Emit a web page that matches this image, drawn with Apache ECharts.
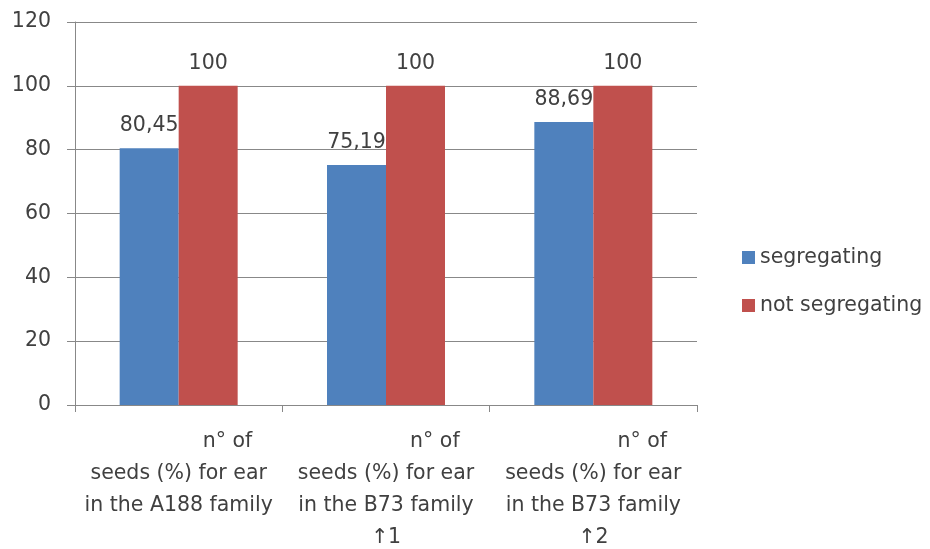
<!DOCTYPE html>
<html>
<head>
<meta charset="utf-8">
<script src="https://cdn.jsdelivr.net/npm/echarts@6/dist/echarts.min.js"></script>
<style>html,body{margin:0;padding:0;background:#fff}#c{width:930px;height:549px}</style>
</head>
<body>
<div id="c"></div>
<script>
const categories = [
  "               n° of\nseeds (%) for ear\nin the A188 family",
  "               n° of\nseeds (%) for ear\nin the B73 family\n↑1",
  "               n° of\nseeds (%) for ear\nin the B73 family\n↑2"
];
const seriesNames = ["segregating", "not segregating"];
const segregating = [80.45, 75.19, 88.69];
const notSegregating = [100, 100, 100];
const yTicks = { min: 0, max: 120, interval: 20 };

const font = '"DejaVu Sans", sans-serif';
const fs = 20.5;
const txt = '#404040';
const chart = echarts.init(document.getElementById('c'));
const labelFmt = p => String(p.value).replace('.', ',');
chart.setOption({
  animation: false,
  textStyle: { fontFamily: font },
  grid: { left: 75, right: 233, top: 22, bottom: 144, outerBoundsMode: 'none', containLabel: false },
  legend: {
    orient: 'vertical',
    left: 737, top: 242,
    itemWidth: 13, itemHeight: 13, itemGap: 27,
    icon: 'rect',
    textStyle: { fontFamily: font, fontSize: fs, color: txt },
    data: seriesNames
  },
  xAxis: {
    type: 'category',
    data: categories,
    axisLine: { lineStyle: { color: '#888' } },
    axisTick: { show: true, length: 7, lineStyle: { color: '#888' } },
    axisLabel: { fontFamily: font, fontSize: fs, color: txt, lineHeight: 32, margin: 21, interval: 0 }
  },
  yAxis: {
    type: 'value',
    min: yTicks.min, max: yTicks.max, interval: yTicks.interval,
    axisLine: { show: true, lineStyle: { color: '#888' } },
    axisTick: { show: true, length: 8, lineStyle: { color: '#888' } },
    splitLine: { lineStyle: { color: '#888' } },
    axisLabel: { fontFamily: font, fontSize: fs, color: txt, margin: 24 }
  },
  series: [
    {
      name: seriesNames[0], type: 'bar', data: segregating,
      itemStyle: { color: '#4F81BD' },
      barWidth: 59, barGap: '0%',
      label: { show: true, position: 'top', distance: 12, formatter: labelFmt, fontFamily: font, fontSize: fs, color: txt }
    },
    {
      name: seriesNames[1], type: 'bar', data: notSegregating,
      itemStyle: { color: '#C0504D' },
      barWidth: 59, barGap: '0%',
      label: { show: true, position: 'top', distance: 12, formatter: labelFmt, fontFamily: font, fontSize: fs, color: txt }
    }
  ]
});
</script>
</body>
</html>
